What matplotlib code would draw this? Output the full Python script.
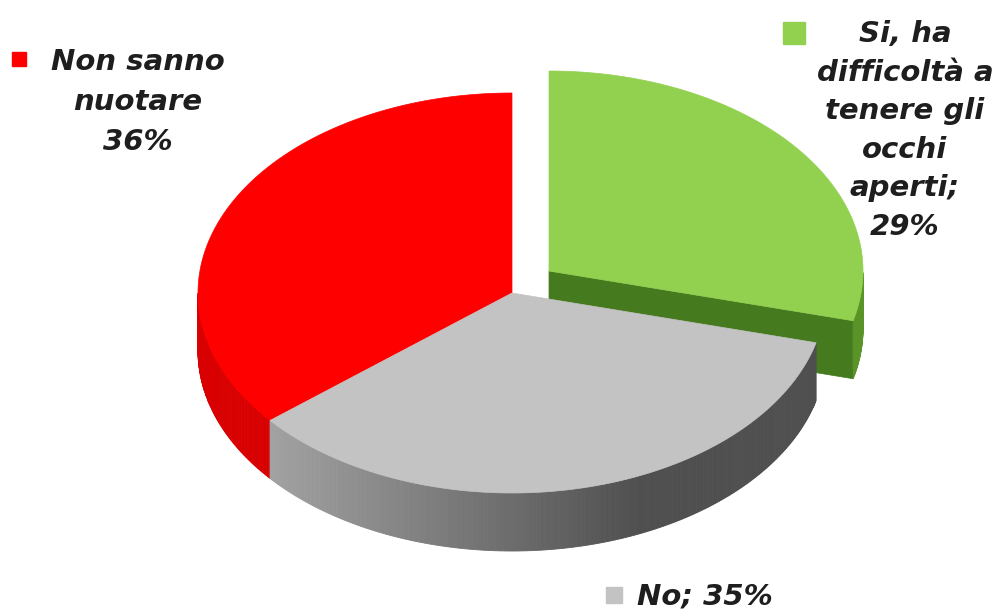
import matplotlib.pyplot as plt
import numpy as np

# data (Excel order: clockwise from 12 o'clock)
names = ["Si, ha\ndifficoltà a\ntenere gli\nocchi\naperti", "No", "Non sanno\nnuotare"]
values = [29, 35, 36]
seps = [";\n", "; ", "\n"]
top_colors = ["#92d050", "#c3c3c3", "#ff0000"]

# pie geometry in pixels
cx, cy = 512, 293
a, b = 314, 200
depth = 58
offsets = [(37, -22), (0, 0), (0, 0)]

fig = plt.figure(figsize=(9.96, 6.10), dpi=100)
ax = fig.add_axes([0, 0, 1, 1])
ax.set_xlim(0, 996)
ax.set_ylim(610, 0)
ax.axis("off")


def ell(t, dx=0, dy=0, z=0):
    r = np.radians(t)
    return cx + a * np.cos(r) + dx, cy - b * np.sin(r) + dy + z


def side_color(i, x):
    if i == 0:
        return "#5a9428"
    if i == 2:
        return "#d80000"
    f = np.clip((x - 265) / (640 - 265), 0, 1)
    g = 0.64 - f * (0.64 - 0.31)
    return (g, g, g)


angles = []
cum = 0
for v in values:
    t1 = 90 - cum * 3.6
    t2 = t1 - v * 3.6
    angles.append((t1, t2))
    cum += v

# draw order: exploded green first, then red, then gray
for i in [0, 2, 1]:
    t1, t2 = angles[i]
    dx, dy = offsets[i]
    # radial face at the clockwise end (faces the viewer) for exploded slice
    if dx or dy:
        ox, oy = ell(t2, dx, dy)
        ax.fill([cx + dx, ox, ox, cx + dx],
                [cy + dy, oy, oy + depth, cy + dy + depth],
                color="#467a1e", lw=0.5)
    # outer wall, front half only
    ts = np.linspace(t2, t1, 240)
    front = np.sin(np.radians(ts)) <= 0
    ts = ts[front]
    for k in range(len(ts) - 1):
        xa, ya = ell(ts[k], dx, dy)
        xb, yb = ell(ts[k + 1], dx, dy)
        c = side_color(i, (xa + xb) / 2)
        ax.fill([xa, xb, xb, xa], [ya, yb, yb + depth, ya + depth],
                color=c, lw=0.6)
    # top face
    tt = np.linspace(t2, t1, 200)
    xs, ys = ell(tt, dx, dy)
    ax.fill(np.r_[cx + dx, xs], np.r_[cy + dy, ys], color=top_colors[i], lw=0.5)

font = dict(family="DejaVu Sans", fontweight="bold", fontstyle="italic",
            fontsize=21, color="#1e1e1e")

labels = [n + s + f"{v}%" for n, s, v in zip(names, seps, values)]

ax.text(905, 20, labels[0], ha="center", va="top", linespacing=1.48,
        multialignment="center", **font)
ax.plot(794, 33, "s", ms=16, color=top_colors[0])

ax.text(705, 605, labels[1], ha="center", va="baseline", **font)
ax.plot(614, 595, "s", ms=12, color=top_colors[1])

ax.text(138, 48, labels[2], ha="center", va="top", linespacing=1.55,
        multialignment="center", **font)
ax.plot(19, 59, "s", ms=9.5, color=top_colors[2])

fig.savefig("out.png", dpi=100)
